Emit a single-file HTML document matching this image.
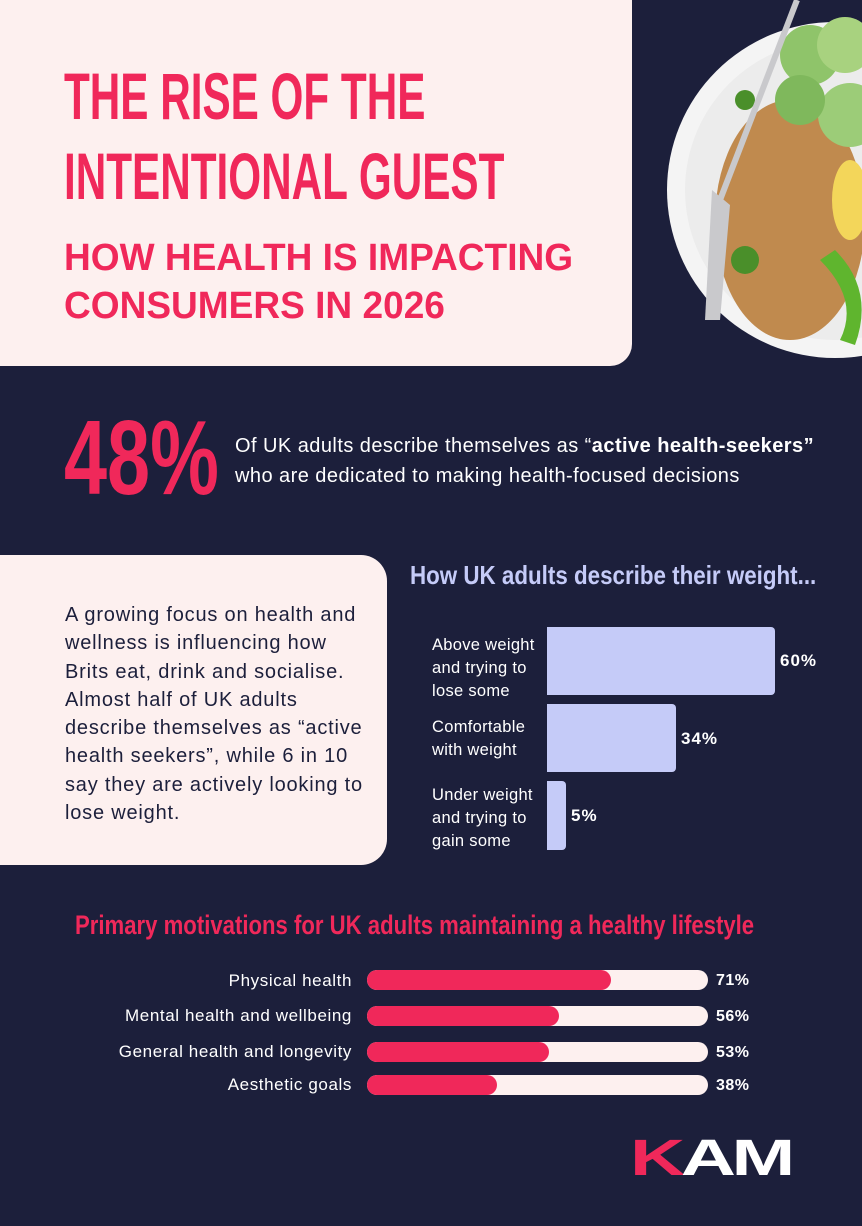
<!DOCTYPE html>
<html><head><style>
body{margin:0;width:862px;height:1226px;background:#1c1f3b;font-family:"Liberation Sans",sans-serif;position:relative;overflow:hidden}
.a{position:absolute;white-space:nowrap}
.cond{font-weight:bold;transform-origin:0 0}
.lab{font-size:16.5px;letter-spacing:0.3px}
.ml{font-size:17px;letter-spacing:0.6px;line-height:20px;color:#fff;text-align:right}
.pv{font-size:16px;letter-spacing:0.5px;font-weight:bold;color:#fff}
</style></head><body>
<svg class="a" style="left:0;top:0" width="862" height="400">
<circle cx="835" cy="190" r="168" fill="#f4f4f4"/>
<circle cx="835" cy="190" r="150" fill="#ececec"/>
<ellipse cx="790" cy="220" rx="75" ry="120" fill="#c08a4e"/>
<circle cx="810" cy="55" r="30" fill="#8fc46a"/><circle cx="845" cy="45" r="28" fill="#a8d27f"/>
<circle cx="850" cy="115" r="32" fill="#9ccc78"/><circle cx="800" cy="100" r="25" fill="#7fb85c"/>
<ellipse cx="850" cy="200" rx="18" ry="40" fill="#f3d65a"/>
<path d="M820 260 Q860 300 840 340 L855 345 Q875 290 835 250Z" fill="#5fb52e"/>
<circle cx="745" cy="260" r="14" fill="#4a8f2a"/><circle cx="745" cy="100" r="10" fill="#4a8f2a"/>
<line x1="797" y1="0" x2="720" y2="200" stroke="#c9c9cc" stroke-width="6"/>
<path d="M712 190 L730 205 L720 320 L705 320Z" fill="#c9c9cc"/>
</svg>
<div class="a" style="left:0;top:0;width:632px;height:366px;background:#fdf0ef;border-bottom-right-radius:22px"></div>
<div class="a cond" style="left:64px;top:56px;font-size:66px;line-height:80px;color:#f0285a;transform:scaleX(0.64)">THE RISE OF THE<br>INTENTIONAL GUEST</div>
<div class="a" style="left:64px;top:234px;font-size:38px;line-height:48px;font-weight:bold;color:#f0285a;transform:scaleX(0.975);transform-origin:0 0">HOW HEALTH IS IMPACTING<br>CONSUMERS IN 2026</div>
<div class="a cond" style="left:64px;top:405px;font-size:106px;line-height:106px;color:#f0285a;transform:scaleX(0.73)">48%</div>
<div class="a" style="left:235px;top:431px;font-size:20px;letter-spacing:0.45px;line-height:30px;color:#fff">Of UK adults describe themselves as “<b>active health-seekers”</b><br>who are dedicated to making health-focused decisions</div>
<div class="a" style="left:0;top:555px;width:387px;height:310px;background:#fdf0ef;border-radius:0 26px 26px 0"></div>
<div class="a" style="left:65px;top:601px;font-size:20px;letter-spacing:0.8px;line-height:28.3px;color:#1c1f3b">A growing focus on health and<br>wellness is influencing how<br>Brits eat, drink and socialise.<br>Almost half of UK adults<br>describe themselves as “active<br>health seekers”, while 6 in 10<br>say they are actively looking to<br>lose weight.</div>
<div class="a cond" style="left:410px;top:560px;font-size:26px;color:#c5cbf8;transform:scaleX(0.86)">How UK adults describe their weight...</div>
<div class="a lab" style="left:432px;top:634px;line-height:23px;color:#fff">Above weight<br>and trying to<br>lose some</div>
<div class="a lab" style="left:432px;top:716px;line-height:23px;color:#fff">Comfortable<br>with weight</div>
<div class="a lab" style="left:432px;top:784px;line-height:23px;color:#fff">Under weight<br>and trying to<br>gain some</div>
<div class="a" style="left:547px;top:627px;width:228px;height:68px;background:#c5cbf8;border-radius:0 4px 4px 0"></div>
<div class="a" style="left:547px;top:704px;width:129px;height:68px;background:#c5cbf8;border-radius:0 4px 4px 0"></div>
<div class="a" style="left:547px;top:781px;width:19px;height:69px;background:#c5cbf8;border-radius:0 4px 4px 0"></div>
<div class="a" style="left:780px;top:651px;font-size:17px;letter-spacing:1px;font-weight:bold;color:#fff">60%</div>
<div class="a" style="left:681px;top:729px;font-size:17px;letter-spacing:1px;font-weight:bold;color:#fff">34%</div>
<div class="a" style="left:571px;top:806px;font-size:17px;letter-spacing:1px;font-weight:bold;color:#fff">5%</div>
<div class="a cond" style="left:75px;top:910px;font-size:27px;color:#f0285a;transform:scaleX(0.82)">Primary motivations for UK adults maintaining a healthy lifestyle</div>
<div class="a ml" style="right:510px;top:971px">Physical health</div>
<div class="a ml" style="right:510px;top:1006px">Mental health and wellbeing</div>
<div class="a ml" style="right:510px;top:1042px">General health and longevity</div>
<div class="a ml" style="right:510px;top:1075px">Aesthetic goals</div>
<div class="a" style="left:367px;top:970px;width:341px;height:20px;background:#fdf0ef;border-radius:10px"><div style="width:244px;height:20px;background:#f0285a;border-radius:10px"></div></div>
<div class="a" style="left:367px;top:1006px;width:341px;height:20px;background:#fdf0ef;border-radius:10px"><div style="width:192px;height:20px;background:#f0285a;border-radius:10px"></div></div>
<div class="a" style="left:367px;top:1042px;width:341px;height:20px;background:#fdf0ef;border-radius:10px"><div style="width:182px;height:20px;background:#f0285a;border-radius:10px"></div></div>
<div class="a" style="left:367px;top:1075px;width:341px;height:20px;background:#fdf0ef;border-radius:10px"><div style="width:130px;height:20px;background:#f0285a;border-radius:10px"></div></div>
<div class="a pv" style="left:716px;top:972px">71%</div>
<div class="a pv" style="left:716px;top:1008px">56%</div>
<div class="a pv" style="left:716px;top:1044px">53%</div>
<div class="a pv" style="left:716px;top:1077px">38%</div>
<div class="a" style="left:630px;top:1130px;font-size:51px;line-height:56px;font-weight:bold;color:#fff;transform:scaleX(1.5);transform-origin:0 0;letter-spacing:-3px"><span style="color:#f0285a">K</span>AM</div>
</body></html>
